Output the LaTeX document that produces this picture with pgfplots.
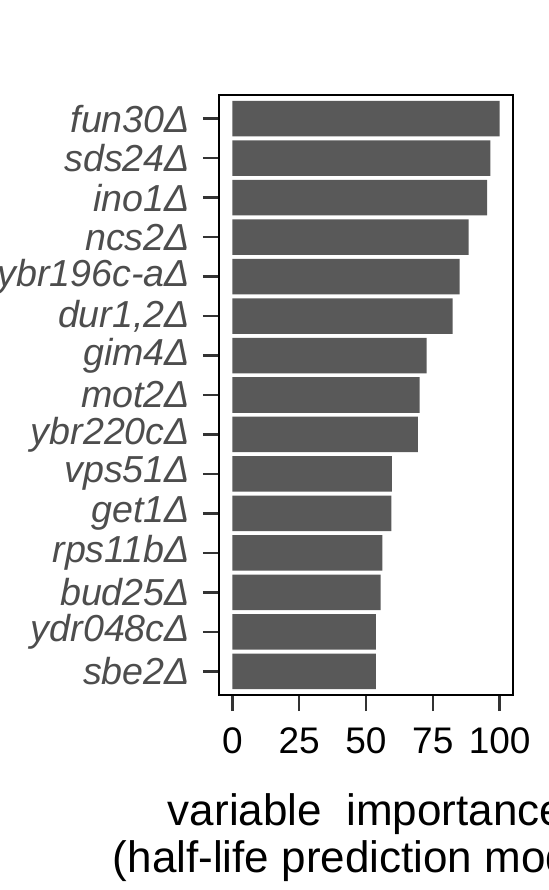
\documentclass[border=0pt]{standalone}
\usepackage{fontspec}
\setmainfont{Liberation Sans}
\usepackage{pgfplots}
\pgfplotsset{compat=1.18}
\definecolor{barfill}{HTML}{595959}
\definecolor{labgray}{HTML}{4D4D4D}
\definecolor{tickgray}{HTML}{333333}
\begin{document}
\begin{tikzpicture}
  % page = the cropped region of the figure (1px = 0.5pt)
  \path[use as bounding box, clip] (0,0) rectangle (274.5pt,445pt);
  \begin{axis}[
    at={(109.5pt,97.5pt)}, anchor=south west,
    scale only axis,
    width=147pt, height=300pt,
    xbar, bar width=0.9,
    y dir=reverse,
    xmin=-5, xmax=105,
    ymin=0.4, ymax=15.6,
    xtick={0,25,50,75,100},
    ytick={1,...,15},
    yticklabels={fun30Δ,sds24Δ,ino1Δ,ncs2Δ,ybr196c-aΔ,{dur1,2Δ},gim4Δ,mot2Δ,ybr220cΔ,vps51Δ,get1Δ,rps11bΔ,bud25Δ,ydr048cΔ,sbe2Δ},
    tick pos=left,
    tick align=outside,
    major tick length=8pt,
    tick style={line width=1.3pt, color=tickgray},
    axis line style={line width=1pt, black},
    /pgf/number format/assume math mode=true,
    xticklabel style={font=\fontsize{18.5pt}{19pt}\selectfont, black, yshift=-5pt},
    yticklabel style={font=\fontsize{18.8pt}{19pt}\selectfont\itshape, labgray, xshift=-3pt},
    xlabel={variable\ \ importance\\(half-life prediction model)},
    xlabel style={at={(axis description cs:0.5,0)}, anchor=base,
      yshift=-88.5pt, align=center,
      font=\fontsize{22pt}{23.5pt}\selectfont, black},
  ]
    \addplot[fill=barfill, draw=none] coordinates {
      (100,1) (96.5,2) (95.3,3) (88.4,4) (85.0,5) (82.4,6) (72.7,7) (70.1,8)
      (69.4,9) (59.7,10) (59.5,11) (56.1,12) (55.5,13) (53.7,14) (53.7,15)
    };
  \end{axis}
\end{tikzpicture}
\end{document}
